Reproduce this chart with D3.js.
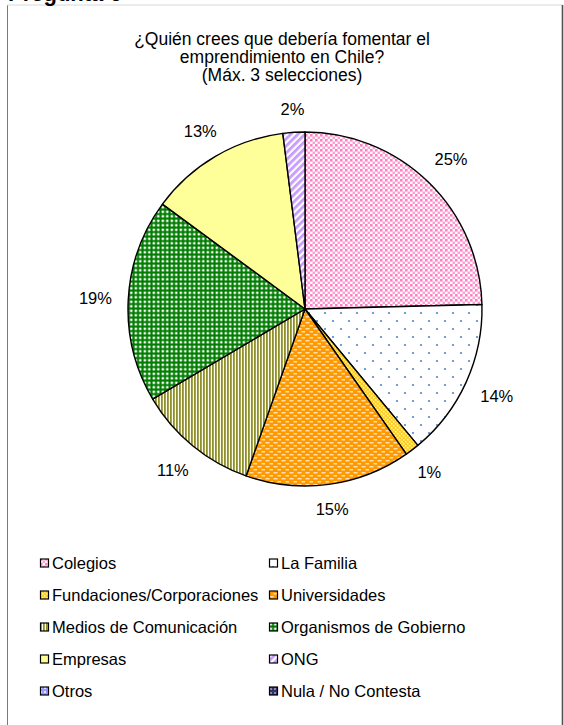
<!DOCTYPE html>
<html><head><meta charset="utf-8">
<script src="https://cdn.jsdelivr.net/npm/d3@7"></script>
<style>body{margin:0;background:#fff}svg{display:block}</style>
</head><body>
<svg id="c" width="564" height="725"></svg>
<script>
const categories = ["Colegios","La Familia","Fundaciones/Corporaciones","Universidades","Medios de Comunicación","Organismos de Gobierno","Empresas","ONG","Otros","Nula / No Contesta"];
const values = [24.6,14.4,1.3,15.1,11.1,18.6,12.9,2.0,0,0];
const titleLines = ["¿Quién crees que debería fomentar el","emprendimiento en Chile?","(Máx. 3 selecciones)"];
const heading = "Pregunta 6";

const svg = d3.select("#c");
const defs = svg.append("defs");
const font = "'Liberation Sans', Arial, sans-serif";

function pat(id, w, h, bg, shapes, transform){
  const p = defs.append("pattern").attr("id", id).attr("patternUnits","userSpaceOnUse")
    .attr("width", w).attr("height", h);
  if (transform) p.attr("patternTransform", transform);
  p.append("rect").attr("width", w).attr("height", h).attr("fill", bg);
  shapes.forEach(s => {
    if (s.r) p.append("circle").attr("cx", s.x).attr("cy", s.y).attr("r", s.r).attr("fill", s.c);
    else p.append("rect").attr("x", s.x).attr("y", s.y).attr("width", s.w).attr("height", s.h).attr("fill", s.c);
  });
  return "url(#" + id + ")";
}
const fills = [
  pat("p0", 5, 5, "#FFFFFF", [{x:0,y:0,w:2.6,h:2.6,c:"#FF80C4"},{x:2.5,y:2.5,w:2.6,h:2.6,c:"#FF9ED2"}]),
  pat("p1", 16, 16, "#FFFFFF", [{x:4,y:4,r:1.1,c:"#4F86CF"},{x:12,y:12,r:1.1,c:"#4F86CF"}]),
  pat("p2", 4, 4, "#FFCC22", [{x:0,y:0,w:1.6,h:1.6,c:"#FFF4B0"},{x:2,y:2,w:1.6,h:1.6,c:"#FFF4B0"}]),
  pat("p3", 8, 6, "#FF9900", [{x:0.5,y:1,w:4,h:1.5,c:"#FFE0B0"},{x:4.5,y:4,w:4,h:1.5,c:"#FFE0B0"}]),
  pat("p4", 3, 3, "#FFFFF0", [{x:0,y:0,w:1.8,h:3,c:"#8F8F2E"}]),
  pat("p5", 4.5, 4.5, "#007C00", [{x:0.6,y:0.6,w:2.4,h:2.4,c:"#FFFFFF"}]),
  "#FFFF99",
  pat("p7", 5, 5, "#FFFFFF", [{x:0,y:0,w:2.8,h:5,c:"#C89CFF"}], "rotate(45)"),
  pat("p8", 4, 4, "#9999FF", [{x:0,y:0,w:2,h:2,c:"#E0E0FF"}]),
  pat("p9", 4, 4, "#333366", [{x:1,y:1,w:2,h:2,c:"#8888AA"}])
];

// frame
svg.append("line").attr("x1",7.5).attr("y1",5).attr("x2",7.5).attr("y2",725).attr("stroke","#7a7a7a").attr("stroke-width",1);
svg.append("line").attr("x1",7).attr("y1",5).attr("x2",563).attr("y2",5).attr("stroke","#d8d8d8").attr("stroke-width",1);
svg.append("line").attr("x1",562.5).attr("y1",5).attr("x2",562.5).attr("y2",725).attr("stroke","#505050").attr("stroke-width",1.6);

svg.append("text").attr("x", 8).attr("y", 1).attr("font-family", font).attr("font-weight","bold")
  .attr("font-size", 22).attr("fill","#000").text(heading);

// title
svg.append("g").selectAll("text").data(titleLines).join("text")
  .attr("x", 282).attr("y", (d,i) => 45 + i*18)
  .attr("text-anchor","middle").attr("font-family", font).attr("font-size", 17.5).attr("fill","#000")
  .text(d => d);

// pie
const cx = 305, cy = 309, R = 177;
const data = categories.map((c,i) => ({c, v: values[i], i}));
const pie = d3.pie().sort(null).value(d => d.v).startAngle(0).endAngle(2*Math.PI);
const arcs = pie(data).filter(a => a.data.v > 0);
const arc = d3.arc().innerRadius(0).outerRadius(R);
const g = svg.append("g").attr("transform", `translate(${cx},${cy})`);
g.selectAll("path").data(arcs).join("path")
  .attr("d", arc).attr("fill", d => fills[d.data.i])
  .attr("stroke", "#000").attr("stroke-width", 1.4).attr("stroke-linejoin","round");

// labels
const fmt = v => Math.round(v) + "%";
const R0 = 193, hh = 6.5;
g.selectAll("text.lbl").data(arcs).join("text").attr("class","lbl")
  .attr("font-family", font).attr("font-size", 16.5).attr("text-anchor","middle").attr("fill","#000")
  .text(d => fmt(d.data.v))
  .each(function(d){
    const a = (d.startAngle + d.endAngle)/2;
    const s = Math.sin(a), c = -Math.cos(a);
    const w = this.getComputedTextLength();
    const dist = R0 + Math.abs(s)*w/2 + Math.abs(c)*hh;
    d3.select(this).attr("x", s*dist).attr("y", c*dist + 6);
  });

// legend
const lx = [40, 269], ly0 = 563, ldy = 32;
const lg = svg.append("g").selectAll("g").data(data).join("g")
  .attr("transform", (d,i) => `translate(${lx[i%2]},${ly0 + Math.floor(i/2)*ldy})`);
lg.append("rect").attr("x", 0.5).attr("y", -4).attr("width", 8).attr("height", 8)
  .attr("fill", d => fills[d.i]).attr("stroke", "#000").attr("stroke-width", 1.2);
lg.append("text").attr("x", 12).attr("y", 6).attr("font-family", font).attr("font-size", 16.5)
  .attr("fill","#000").text(d => d.c);
</script>
</body></html>
